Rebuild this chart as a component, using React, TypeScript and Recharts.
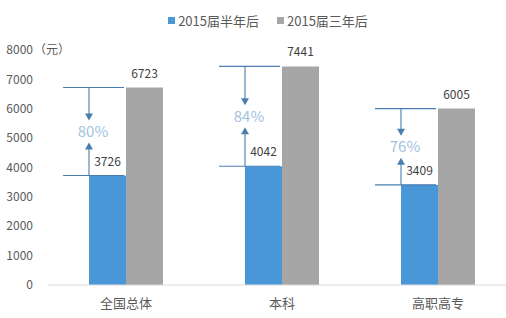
import React from 'react';
import { BarChart, Bar, XAxis, YAxis, LabelList } from 'recharts';

const CATEGORIES = ['全国总体', '本科', '高职高专'];
const HALF_YEAR = [3726, 4042, 3409];
const THREE_YEAR = [6723, 7441, 6005];
const GROWTH = ['80%', '84%', '76%'];
const Y_TICKS = [0, 1000, 2000, 3000, 4000, 5000, 6000, 7000, 8000];

const SERIES = [
  { key: 'half', name: '2015届半年后', color: '#4a97d8' },
  { key: 'three', name: '2015届三年后', color: '#a6a6a6' },
];

const data = CATEGORIES.map((c, i) => ({
  name: c,
  half: HALF_YEAR[i],
  three: THREE_YEAR[i],
  growth: GROWTH[i],
}));

const FONT = '"Noto Sans CJK SC", "Noto Sans", sans-serif';
const LINE = '#4a7eb0';

const YTick = (props: any) => {
  const { x, y, payload } = props;
  return (
    <g>
      <text x={x} y={y} dy="0.35em" textAnchor="end" fill="#595959" fontSize={12} fontFamily={FONT}>
        {payload.value}
      </text>
      {payload.value === 8000 && (
        <text x={x + 1} y={y} dy="0.35em" textAnchor="start" fill="#595959" fontSize={12} fontFamily={FONT}>
          （元）
        </text>
      )}
    </g>
  );
};

// blue bar plus the growth annotation (brackets + arrows + percent)
const AnnotatedBar = (props: any) => {
  const { x, y, width, height, payload, fill } = props;
  const base = y + height;
  const perUnit = height / payload.half;
  const topY = base - payload.three * perUnit;
  const botY = y;
  const mid = (topY + botY) / 2;
  const gap = 11;
  const vx = x;
  const x1 = x - 26;
  const x2 = x + width - 2;
  const head = 7;
  return (
    <g>
      <rect x={x} y={y} width={width} height={height} fill={fill} />
      <line x1={x1} x2={x2} y1={topY} y2={topY} stroke={LINE} strokeWidth={1.1} />
      <line x1={x1} x2={x2} y1={botY} y2={botY} stroke={LINE} strokeWidth={1.1} />
      <line x1={vx} x2={vx} y1={topY} y2={mid - gap - head + 1} stroke={LINE} strokeWidth={1.1} />
      <polygon
        points={`${vx - 4},${mid - gap - head} ${vx + 4},${mid - gap - head} ${vx},${mid - gap}`}
        fill={LINE}
      />
      <line x1={vx} x2={vx} y1={botY} y2={mid + gap + head - 1} stroke={LINE} strokeWidth={1.1} />
      <polygon
        points={`${vx - 4},${mid + gap + head} ${vx + 4},${mid + gap + head} ${vx},${mid + gap}`}
        fill={LINE}
      />
      <text
        x={vx + 4}
        y={mid}
        dy="0.35em"
        textAnchor="middle"
        fill="#a3c2e0"
        fontSize={15}
        fontFamily={FONT}
      >
        {payload.growth}
      </text>
    </g>
  );
};

export default function App() {
  return (
    <div
      style={{
        position: 'absolute',
        left: 0,
        top: 0,
        width: 506,
        height: 318,
        overflow: 'hidden',
        background: '#fff',
        fontFamily: FONT,
      }}
    >
      <div
        style={{
          position: 'absolute',
          top: 11,
          left: 0,
          width: 506,
          display: 'flex',
          justifyContent: 'center',
          paddingLeft: 30,
          boxSizing: 'border-box',
          gap: 18,
          fontSize: 13,
          color: '#595959',
          zIndex: 2,
        }}
      >
        {SERIES.map((s) => (
          <div key={s.key} style={{ display: 'flex', alignItems: 'center', gap: 3 }}>
            <span style={{ width: 7, height: 7, background: s.color, display: 'inline-block' }} />
            <span>{s.name}</span>
          </div>
        ))}
      </div>
      <BarChart
        width={520}
        height={318}
        data={data}
        margin={{ top: 50, right: 4, bottom: 0, left: 0 }}
        barCategoryGap={41}
        barGap={0}
      >
        <XAxis
          dataKey="name"
          height={33}
          axisLine={{ stroke: '#d9d9d9' }}
          tickLine={false}
          tickSize={0}
          tickMargin={14}
          tick={{ fill: '#595959', fontSize: 13, fontFamily: FONT }}
        />
        <YAxis
          width={48}
          domain={[0, 8000]}
          ticks={Y_TICKS}
          axisLine={false}
          tickLine={false}
          tickSize={0}
          tickMargin={15}
          tick={<YTick />}
          interval={0}
        />
        <Bar dataKey="half" name={SERIES[0].name} fill={SERIES[0].color} shape={(p: any) => <AnnotatedBar {...p} />} isAnimationActive={false}>
          <LabelList dataKey="half" position="top" offset={10} fill="#404040" fontSize={12} fontFamily={FONT} />
        </Bar>
        <Bar dataKey="three" name={SERIES[1].name} fill={SERIES[1].color} isAnimationActive={false}>
          <LabelList dataKey="three" position="top" offset={10} fill="#404040" fontSize={12} fontFamily={FONT} />
        </Bar>
      </BarChart>
    </div>
  );
}
